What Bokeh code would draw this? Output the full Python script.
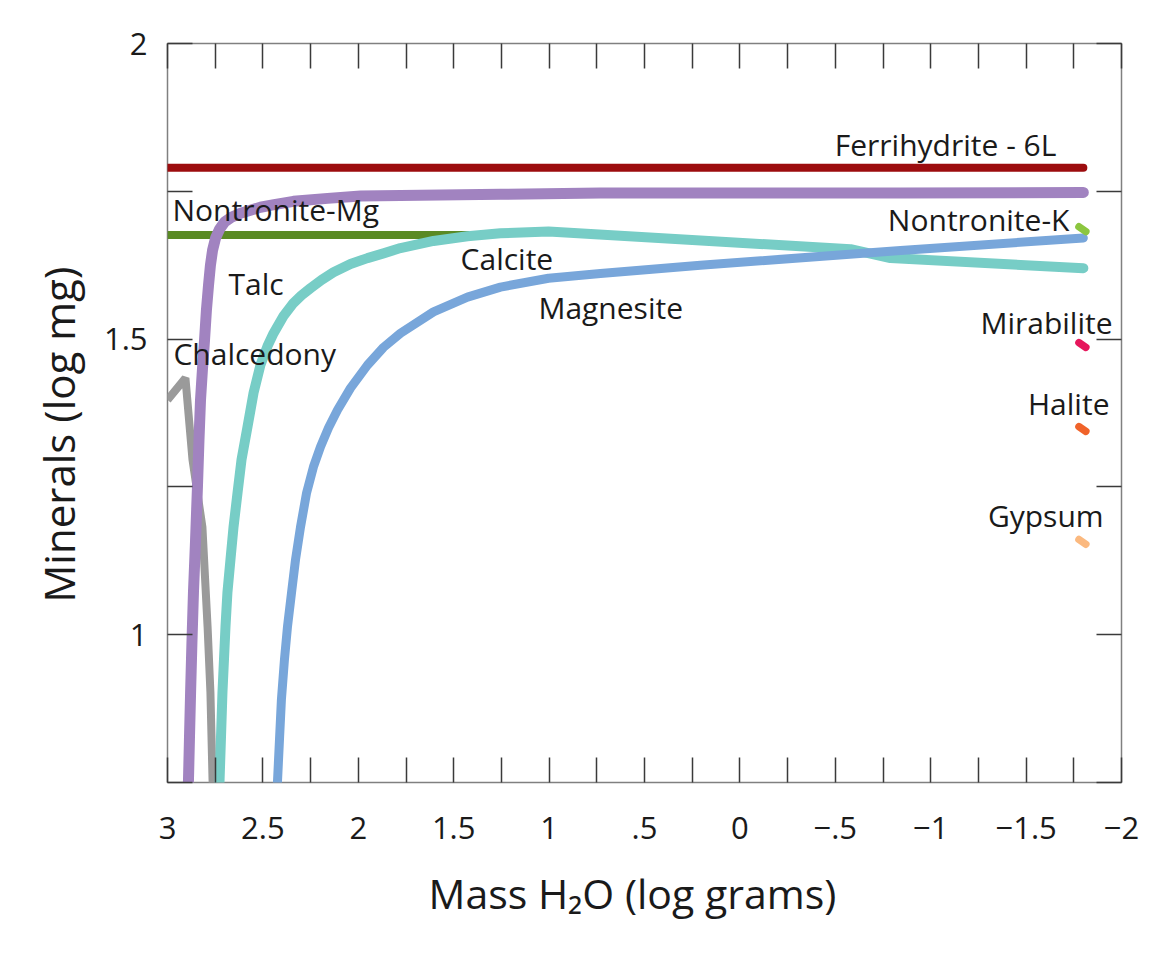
import math
from bokeh.plotting import figure
from bokeh.models import Range1d, LinearAxis, FixedTicker, Label, Title, CustomJSTickFormatter
from bokeh.embed import file_html
from bokeh.resources import INLINE

# ---------------- data ----------------
# x = Mass H2O (log grams), y = Minerals (log mg)
ferri_x = [3.0, -1.80]
ferri_y = [1.790, 1.790]

talc_x = [3.0, 1.36]
talc_y = [1.676, 1.676]

nontmg_x = [2.893, 2.890, 2.885, 2.879, 2.872, 2.864, 2.853, 2.843, 2.835, 2.827,
            2.817, 2.806, 2.796, 2.785, 2.775, 2.764, 2.748, 2.727, 2.701, 2.665,
            2.617, 2.565, 2.513, 2.434, 2.340, 2.161, 1.988, 1.779, 1.255, 0.731,
            -0.842, -1.80]
nontmg_y = [0.721, 0.755, 0.823, 0.902, 0.986, 1.071, 1.160, 1.250, 1.329, 1.397,
            1.448, 1.498, 1.549, 1.591, 1.625, 1.650, 1.671, 1.686, 1.698, 1.706,
            1.713, 1.718, 1.723, 1.728, 1.733, 1.738, 1.742, 1.743, 1.745, 1.747,
            1.747, 1.748]

chalc_x = [3.0, 2.906, 2.869, 2.817, 2.790, 2.775, 2.764, 2.759]
chalc_y = [1.397, 1.434, 1.296, 1.182, 1.014, 0.902, 0.755, 0.721]

calcite_x = [2.730, 2.727, 2.720, 2.712, 2.704, 2.696, 2.686, 2.670, 2.654, 2.633,
             2.612, 2.581, 2.549, 2.513, 2.476, 2.444, 2.392, 2.340, 2.298, 2.251,
             2.193, 2.130, 2.041, 1.952, 1.868, 1.779, 1.606, 1.428, 1.255, 1.003,
             -0.580, -0.789, -1.80]
calcite_y = [0.721, 0.755, 0.823, 0.902, 0.958, 1.014, 1.071, 1.127, 1.182, 1.240,
             1.296, 1.351, 1.409, 1.456, 1.488, 1.510, 1.539, 1.561, 1.574, 1.586,
             1.600, 1.613, 1.627, 1.637, 1.645, 1.654, 1.666, 1.674, 1.679, 1.682,
             1.652, 1.637, 1.620]

magn_x = [2.429, 2.423, 2.413, 2.403, 2.387, 2.371, 2.350, 2.329, 2.303, 2.271,
          2.235, 2.198, 2.156, 2.109, 2.041, 1.952, 1.868, 1.779, 1.606, 1.428,
          1.255, 1.003, 0.731, 0.207, -0.842, -1.80]
magn_y = [0.721, 0.755, 0.823, 0.890, 0.958, 1.014, 1.071, 1.127, 1.182, 1.240,
          1.284, 1.318, 1.350, 1.380, 1.417, 1.456, 1.486, 1.510, 1.546, 1.571,
          1.588, 1.603, 1.611, 1.625, 1.650, 1.671]

# minerals that appear only at the last step
end_names = ["Nontronite-K", "Mirabilite", "Halite", "Gypsum"]
end_x = [-1.795, -1.795, -1.795, -1.795]
end_y = [1.686, 1.490, 1.348, 1.157]

x_major = [3, 2.5, 2, 1.5, 1, 0.5, 0, -0.5, -1, -1.5, -2]
x_labels = ["3", "2.5", "2", "1.5", "1", ".5", "0", "\u2212.5", "\u22121", "\u22121.5", "\u22122"]
x_minor = [2.75, 2.25, 1.75, 1.25, 0.75, 0.25, -0.25, -0.75, -1.25, -1.75]
y_major = [2, 1.5, 1]
y_labels = ["2", "1.5", "1"]
y_minor = [1.75, 1.25, 0.75]

# ---------------- styles ----------------
FONT = "Open Sans"
TXT = "#1a1a1a"
C_FERRI = "#9c0c0e"
C_TALC = "#5a8a24"
C_PURPLE = "#a183c0"
C_GRAY = "#9a9a9a"
C_TEAL = "#77cdc6"
C_BLUE = "#78a6da"
end_colors = ["#8cc63f", "#e6175c", "#f0632a", "#fbb97f"]

p = figure(width=1150, height=950, output_backend="svg", toolbar_location=None,
           x_range=Range1d(3, -2), y_range=Range1d(0.75, 2),
           x_axis_location=None, y_axis_location=None,
           min_border_left=167, min_border_right=29, min_border_top=43, min_border_bottom=168)
p.background_fill_color = "white"
p.border_fill_color = "white"
p.outline_line_color = "#808080"
p.outline_line_width = 1.5
p.xgrid.visible = False
p.ygrid.visible = False


def style_axis(ax, show_labels, overrides=None, standoff=0):
    ax.axis_line_color = None
    ax.major_tick_in = 25
    ax.major_tick_out = 0
    ax.minor_tick_in = 25
    ax.minor_tick_out = 0
    ax.major_tick_line_color = "#3a3a3a"
    ax.minor_tick_line_color = "#3a3a3a"
    ax.major_tick_line_width = 1.5
    ax.minor_tick_line_width = 1.5
    ax.major_label_text_font = FONT
    ax.major_label_text_color = TXT
    ax.major_label_text_font_size = "31px"
    ax.major_label_standoff = standoff
    if show_labels:
        ax.major_label_overrides = overrides
    else:
        ax.formatter = CustomJSTickFormatter(code="return ''")


xt = FixedTicker(ticks=x_major, minor_ticks=x_minor)
yt = FixedTicker(ticks=y_major, minor_ticks=y_minor)

xb = LinearAxis(ticker=xt)
style_axis(xb, True, {float(k): v for k, v in zip(x_major, x_labels)}, standoff=34)
p.add_layout(xb, "below")
xa = LinearAxis(ticker=xt)
style_axis(xa, False)
p.add_layout(xa, "above")
yl = LinearAxis(ticker=yt)
style_axis(yl, True, {float(k): v for k, v in zip(y_major, y_labels)}, standoff=20)
p.add_layout(yl, "left")
yr = LinearAxis(ticker=yt)
style_axis(yr, False)
p.add_layout(yr, "right")

# axis titles
p.add_layout(Title(text="Mass H\u2082O (log grams)", text_font=FONT, text_font_size="41px",
                   text_font_style="normal", text_color=TXT, align="left",
                   offset=261, standoff=43), "below")
p.add_layout(Title(text="Minerals (log mg)", text_font=FONT, text_font_size="42px",
                   text_font_style="normal", text_color=TXT, align="left",
                   offset=180, standoff=28), "left")

# ---------------- lines ----------------
p.line(ferri_x, ferri_y, line_color=C_FERRI, line_width=8, line_cap="round")
p.line(talc_x, talc_y, line_color=C_TALC, line_width=8)
p.line(chalc_x, chalc_y, line_color=C_GRAY, line_width=8)
p.line(nontmg_x, nontmg_y, line_color=C_PURPLE, line_width=11, line_cap="round", line_join="round")
p.line(calcite_x, calcite_y, line_color=C_TEAL, line_width=10, line_cap="round", line_join="round")
p.line(magn_x, magn_y, line_color=C_BLUE, line_width=9, line_cap="round", line_join="round")

dx, dy = 0.018, 0.004
p.segment(x0=[x + dx for x in end_x], y0=[y + dy for y in end_y],
          x1=[x - dx for x in end_x], y1=[y - dy for y in end_y],
          line_color=end_colors, line_width=7.5, line_cap="round")

# ---------------- text labels ----------------
def lab(txt, x, y, align="left", size="30px"):
    p.add_layout(Label(x=x, y=y, text=txt, text_font=FONT, text_font_size=size,
                       text_color=TXT, text_align=align, text_baseline="alphabetic"))


lab("Ferrihydrite - 6L", -1.078, 1.830, "center")
lab("Nontronite-Mg", 2.974, 1.720)
lab("Nontronite-K", -1.727, 1.703, "right")
lab("Talc", 2.680, 1.594)
lab("Chalcedony", 2.969, 1.475)
lab("Calcite", 1.464, 1.636)
lab("Magnesite", 1.056, 1.553)
lab("Mirabilite", -1.953, 1.528, "right")
lab("Halite", -1.937, 1.391, "right")
lab("Gypsum", -1.906, 1.202, "right")

open("out.html", "w").write(file_html(p, INLINE))
